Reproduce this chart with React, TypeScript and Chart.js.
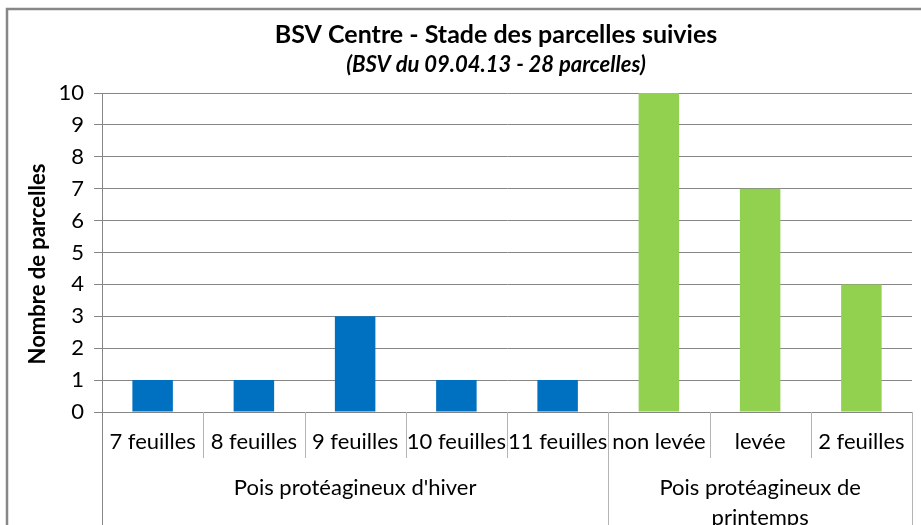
import React, { useEffect, useRef } from "react";
import { Chart, registerables } from "chart.js";

Chart.register(...registerables);

const TITLE = "BSV Centre - Stade des parcelles suivies";
const SUBTITLE = "(BSV du 09.04.13 - 28 parcelles)";
const Y_TITLE = "Nombre de parcelles";

const categories = [
  "7 feuilles",
  "8 feuilles",
  "9 feuilles",
  "10 feuilles",
  "11 feuilles",
  "non levée",
  "levée",
  "2 feuilles",
];
const values = [1, 1, 3, 1, 1, 10, 7, 4];

const groupLabels = [
  ["Pois protéagineux d'hiver"],
  ["Pois protéagineux de", "printemps"],
];
const groupSizes = [5, 3];
const groupColors = ["#0070C0", "#92D050"];

const yMin = 0;
const yMax = 10;
const yStep = 1;

const FONT = "Lato, 'Liberation Sans', sans-serif";

function barColors(): string[] {
  const out: string[] = [];
  groupSizes.forEach((n, g) => {
    for (let i = 0; i < n; i++) out.push(groupColors[g]);
  });
  return out;
}

const decorPlugin = {
  id: "decor",
  beforeDraw(chart: any) {
    const { ctx, width, height } = chart;
    ctx.save();
    ctx.fillStyle = "#ffffff";
    ctx.fillRect(0, 0, width, height);
    ctx.strokeStyle = "#878787";
    ctx.lineWidth = 2.5;
    ctx.beginPath();
    ctx.moveTo(7, height + 10);
    ctx.lineTo(7, 9);
    ctx.lineTo(width + 10, 9);
    ctx.stroke();
    ctx.restore();
  },
  afterDraw(chart: any) {
    const { ctx, chartArea } = chart;
    const x = chart.scales.x;
    const n = categories.length;
    const catW = (chartArea.right - chartArea.left) / n;
    const bottom = chartArea.bottom;
    ctx.save();

    // titles
    const cx = 496;
    ctx.fillStyle = "#000000";
    ctx.textAlign = "center";
    ctx.textBaseline = "middle";
    ctx.font = `bold 25px ${FONT}`;
    ctx.fillText(TITLE, cx, 35);
    ctx.font = `italic bold 22px ${FONT}`;
    ctx.fillText(SUBTITLE, cx, 65);

    // y axis title
    ctx.save();
    ctx.translate(38, 264);
    ctx.rotate(-Math.PI / 2);
    ctx.font = `bold 22px ${FONT}`;
    ctx.fillText(Y_TITLE, 0, 0);
    ctx.restore();

    // category labels
    ctx.font = `22px ${FONT}`;
    categories.forEach((c, i) => {
      const px = x.getPixelForValue(i);
      ctx.fillText(c, px, bottom + 30);
    });

    // separators
    ctx.lineWidth = 1;
    const groupEdges = new Set<number>();
    let acc = 0;
    groupEdges.add(0);
    groupSizes.forEach((s) => {
      acc += s;
      groupEdges.add(acc);
    });
    for (let i = 0; i <= n; i++) {
      const px = Math.round(chartArea.left + i * catW) + 0.5;
      const isGroup = groupEdges.has(i);
      ctx.strokeStyle = i === 0 ? "#868686" : "#b4b4b4";
      ctx.beginPath();
      ctx.moveTo(px, bottom);
      ctx.lineTo(px, isGroup ? chart.height + 5 : bottom + 46);
      ctx.stroke();
    }

    // group labels
    let start = 0;
    groupSizes.forEach((s, g) => {
      const left = chartArea.left + start * catW;
      const right = chartArea.left + (start + s) * catW;
      const mid = (left + right) / 2;
      groupLabels[g].forEach((line, li) => {
        ctx.fillText(line, mid, bottom + 76 + li * 30);
      });
      start += s;
    });

    ctx.restore();
  },
};

export default function App() {
  const ref = useRef<HTMLCanvasElement | null>(null);

  useEffect(() => {
    if (!ref.current) return;
    const chart = new Chart(ref.current, {
      type: "bar",
      data: {
        labels: categories,
        datasets: [
          {
            data: values,
            backgroundColor: barColors(),
            borderWidth: 0,
            barPercentage: 0.4,
            categoryPercentage: 1,
          },
        ],
      },
      options: {
        responsive: false,
        animation: false,
        devicePixelRatio: 1,
        layout: { padding: { left: 0, right: 9, top: 93, bottom: 113 } },
        plugins: {
          legend: { display: false },
          tooltip: { enabled: false },
          title: { display: false },
        },
        scales: {
          x: {
            display: false,
            grid: { display: false },
          },
          y: {
            min: yMin,
            max: yMax,
            afterFit: (s: any) => {
              s.width = 102;
            },
            ticks: {
              stepSize: yStep,
              color: "#000000",
              font: { family: FONT, size: 22 },
              padding: 10,
            },
            grid: {
              color: "#868686",
              tickColor: "#868686",
              tickLength: 8,
              drawTicks: true,
            },
            border: { display: true, color: "#868686" },
          },
        },
      },
      plugins: [decorPlugin],
    });
    return () => chart.destroy();
  }, []);

  return (
    <div style={{ position: "absolute", left: 0, top: 0, width: 921, height: 525, overflow: "hidden" }}>
      <canvas ref={ref} width={921} height={525} style={{ display: "block" }} />
    </div>
  );
}
